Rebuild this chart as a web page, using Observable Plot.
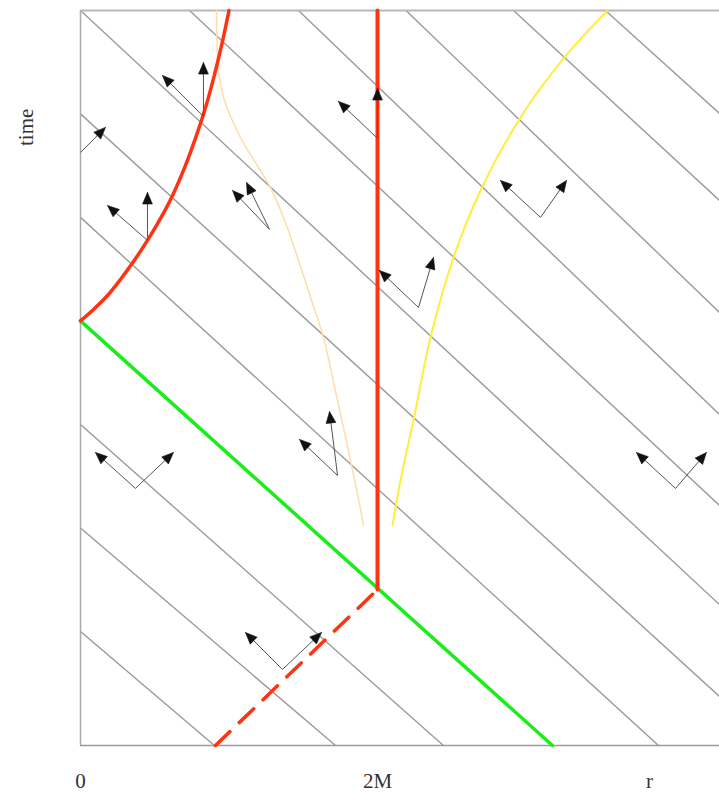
<!DOCTYPE html>
<html>
<head>
<meta charset="utf-8">
<script src="https://cdn.jsdelivr.net/npm/d3@7"></script>
<script src="https://cdn.jsdelivr.net/npm/@observablehq/plot@0.6"></script>
<style>
  html, body { margin: 0; padding: 0; background: #fff; }
  #chart svg { display: block; }
</style>
</head>
<body>
<div id="chart"></div>
<script>
// ---- Data (units of M; r horizontal, t vertical) ----
const rDomain = [0, 4.303];
const tDomain = [0, 4.949];

// ingoing null rays (grey diagonals): start / end points
const rayStartR = [0.734, 1.468, 2.192, 2.916, 3.535, 0, 0, 0, 0, 0, 0];
const rayStartT = [4.949, 4.949, 4.949, 4.949, 4.949, 4.949, 4.253, 3.556, 2.162, 1.465, 0.768];
const rayEndR   = [4.303, 4.303, 4.303, 4.303, 4.303, 4.303, 4.303, 3.892, 2.444, 1.717, 0.902];
const rayEndT   = [1.616, 2.229, 2.916, 3.670, 4.256, 0.949, 0.330, 0, 0, 0, 0];

// green ray
const greenR = [0, 3.178];
const greenT = [2.859, 0];

// horizon (red vertical at r = 2M)
const horizonR = [2, 2];
const horizonT = [1.05, 4.949];

// red dashed outgoing ray
const dashedR = [0.909, 2];
const dashedT = [0, 1.05];

// red curved worldline (star surface)
const starR = [0, 0.0875, 0.182, 0.269, 0.357, 0.451, 0.539, 0.620, 0.707, 0.781, 0.842, 0.896, 0.950, 1.0];
const starT = [2.859, 2.936, 3.030, 3.138, 3.259, 3.401, 3.549, 3.704, 3.906, 4.108, 4.296, 4.492, 4.714, 4.949];

// pale orange outgoing ray (inside)
const orangeR = [1.906, 1.872, 1.818, 1.731, 1.636, 1.556, 1.468, 1.380, 1.279, 1.178, 1.077, 0.970, 0.929, 0.919, 0.916];
const orangeT = [1.481, 1.663, 1.919, 2.323, 2.747, 2.997, 3.266, 3.522, 3.758, 3.926, 4.094, 4.343, 4.545, 4.747, 4.949];

// yellow outgoing ray (outside)
const yellowR = [2.101, 2.155, 2.242, 2.357, 2.505, 2.694, 2.963, 3.253, 3.549];
const yellowT = [1.481, 1.785, 2.189, 2.747, 3.266, 3.737, 4.229, 4.626, 4.949];

// light-cone arrows: origin -> tip
const arrowFromR = [0,     0.828, 0.828, 0.451, 0.451, 1.273, 1.273, 2,     2,     2.276, 2.276, 3.098, 3.098, 0.370, 0.370, 1.731, 1.731, 4.007, 4.007, 1.360, 1.360];
const arrowFromT = [3.993, 4.236, 4.236, 3.401, 3.401, 3.475, 3.475, 4.088, 4.088, 2.949, 2.949, 3.556, 3.556, 1.731, 1.731, 1.818, 1.818, 1.731, 1.731, 0.512, 0.512];
const arrowToR   = [0.168, 0.828, 0.552, 0.451, 0.182, 1.118, 1.024, 2,     1.737, 2.377, 2.013, 2.828, 3.273, 0.101, 0.626, 1.475, 1.677, 3.744, 4.215, 1.111, 1.623];
const arrowToT   = [4.162, 4.599, 4.512, 3.724, 3.636, 3.791, 3.737, 4.424, 4.337, 3.286, 3.199, 3.805, 3.805, 1.973, 1.973, 2.061, 2.249, 1.973, 1.973, 0.761, 0.761];

// labels
const tickValues = [0, 2, 3.832];
const tickLabels = ["0", "2M", "r"];
const axisLabel = "time";

// ---- build tables ----
const rays = rayStartR.map((r, i) => ({x1: r, y1: rayStartT[i], x2: rayEndR[i], y2: rayEndT[i]}));
const pts = (R, T) => R.map((r, i) => ({r, t: T[i]}));
const arrows = arrowFromR.map((r, i) => ({x1: r, y1: arrowFromT[i], x2: arrowToR[i], y2: arrowToT[i]}));

const headLen = 0.078, headHalf = 0.033;
const heads = [];
arrows.forEach((a, i) => {
  const dx = a.x2 - a.x1, dy = a.y2 - a.y1, L = Math.hypot(dx, dy);
  const ux = dx / L, uy = dy / L, px = -uy, py = ux;
  const bx = a.x2 - ux * headLen, by = a.y2 - uy * headLen;
  heads.push({id: i, r: a.x2, t: a.y2});
  heads.push({id: i, r: bx + px * headHalf, t: by + py * headHalf});
  heads.push({id: i, r: bx - px * headHalf, t: by - py * headHalf});
  heads.push({id: i, r: a.x2, t: a.y2});
});
// shafts end at the base of the heads
const shafts = arrows.map(a => {
  const dx = a.x2 - a.x1, dy = a.y2 - a.y1, L = Math.hypot(dx, dy);
  return {x1: a.x1, y1: a.y1, x2: a.x2 - dx / L * headLen * 0.8, y2: a.y2 - dy / L * headLen * 0.8};
});

const red = "#ff3311";
const serif = "Liberation Serif, Times New Roman, serif";

const chart = Plot.plot({
  width: 719,
  height: 793,
  marginLeft: 80,
  marginRight: 0,
  marginTop: 10,
  marginBottom: 48,
  x: {domain: rDomain, axis: null},
  y: {domain: tDomain, axis: null},
  style: {background: "white", overflow: "visible"},
  marks: [
    Plot.link(rays, {x1: "x1", y1: "y1", x2: "x2", y2: "y2", stroke: "#9a9a9a", strokeWidth: 1.4}),
    Plot.ruleX([0], {stroke: "#aaa", strokeWidth: 1.5}),
    Plot.ruleY([0], {stroke: "#9a9a9a", strokeWidth: 1.6}),
    Plot.ruleY([tDomain[1]], {stroke: "#b8b8b8", strokeWidth: 2}),
    Plot.line(pts(orangeR, orangeT), {x: "r", y: "t", stroke: "#ffdcaa", strokeWidth: 1.5, curve: "catmull-rom"}),
    Plot.line(pts(yellowR, yellowT), {x: "r", y: "t", stroke: "#ffee38", strokeWidth: 2, curve: "catmull-rom"}),
    Plot.line(pts(greenR, greenT), {x: "r", y: "t", stroke: "#1bec1b", strokeWidth: 3.5}),
    Plot.line(pts(dashedR, dashedT), {x: "r", y: "t", stroke: red, strokeWidth: 3.5, strokeDasharray: "20,13"}),
    Plot.line(pts(starR, starT), {x: "r", y: "t", stroke: red, strokeWidth: 3.5, curve: "catmull-rom"}),
    Plot.line(pts(horizonR, horizonT), {x: "r", y: "t", stroke: red, strokeWidth: 4}),
    Plot.link(shafts, {x1: "x1", y1: "y1", x2: "x2", y2: "y2", stroke: "#555", strokeWidth: 1}),
    Plot.line(heads, {x: "r", y: "t", z: "id", fill: "#111", stroke: "#111", strokeWidth: 0.6}),
    Plot.text(tickValues, {x: d => d, y: -0.242, text: (d, i) => tickLabels[i], fontSize: 21, fontFamily: serif, fill: "#333"}),
    Plot.text([axisLabel], {x: -0.364, y: 4.162, text: d => d, rotate: -90, fontSize: 21, fontFamily: serif, fill: "#333"})
  ]
});
document.getElementById("chart").appendChild(chart);
</script>
</body>
</html>
